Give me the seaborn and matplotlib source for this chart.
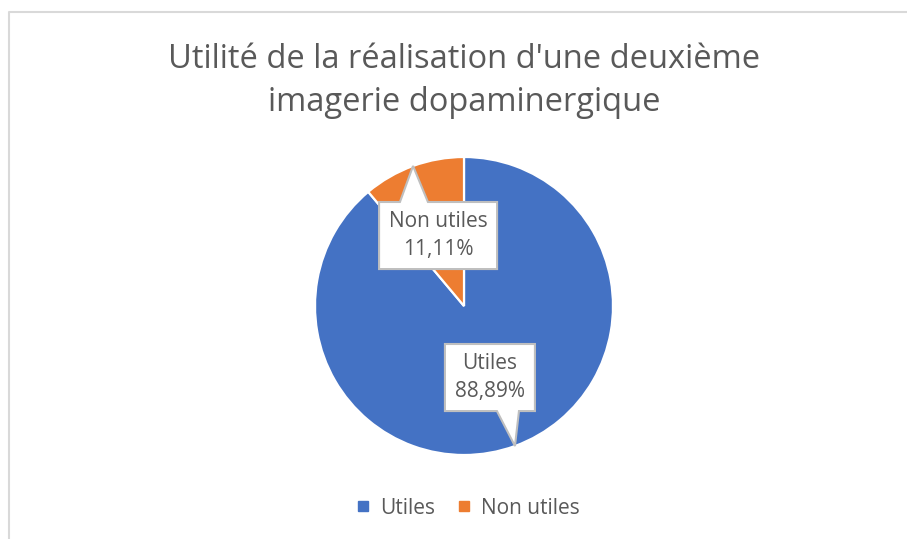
import numpy as np
import matplotlib
matplotlib.use("Agg")
import matplotlib.pyplot as plt
import seaborn as sns
from matplotlib.patches import Polygon
from matplotlib.lines import Line2D

# ---- data ----
categories = ["Utiles", "Non utiles"]
values = [88.89, 11.11]
colors = ["#4472C4", "#ED7D31"]
title = "Utilité de la réalisation d'une deuxième\nimagerie dopaminergique"

sns.set_theme(style="white")
plt.rcParams["font.family"] = ["Open Sans", "DejaVu Sans"]

W, H = 907, 539
DPI = 100
fig = plt.figure(figsize=(W / DPI, H / DPI), dpi=DPI)
fig.patch.set_facecolor("white")

# pie geometry in pixels
cx_px, cy_px, r_px = 464, 306, 149
ax = fig.add_axes([0, 0, 1, 1])
wedges, _ = ax.pie(values, colors=colors, startangle=90, counterclock=False,
                   radius=1, center=(0, 0),
                   wedgeprops=dict(edgecolor="white", linewidth=1.6))
ax.set_aspect("auto")
ax.set_xlim(-cx_px / r_px, (W - cx_px) / r_px)
ax.set_ylim(-(H - cy_px) / r_px, cy_px / r_px)
ax.axis("off")

text_color = "#595959"
# callout layout: (box center, width, height, pointer side, pointer base x range)
layouts = {
    "Utiles": dict(c=(0.174, -0.480), w=0.604, h=0.450, side="bottom", base=(0.221, 0.369)),
    "Non utiles": dict(c=(-0.174, 0.473), w=0.792, h=0.450, side="top", base=(-0.430, -0.242)),
}

for wedge, cat, val in zip(wedges, categories, values):
    mid = np.deg2rad((wedge.theta1 + wedge.theta2) / 2)
    tip = (np.cos(mid) * 1.0, np.sin(mid) * 1.0)
    L = layouts[cat]
    (bx, by), w, h = L["c"], L["w"], L["h"]
    x0, x1, y0, y1 = bx - w / 2, bx + w / 2, by - h / 2, by + h / 2
    b0, b1 = L["base"]
    if L["side"] == "top":
        pts = [(x0, y0), (x1, y0), (x1, y1), (b1, y1), tip, (b0, y1), (x0, y1)]
    else:
        pts = [(x0, y0), (b0, y0), tip, (b1, y0), (x1, y0), (x1, y1), (x0, y1)]
    ax.add_patch(Polygon(pts, closed=True, facecolor="white", edgecolor="#BFBFBF",
                         linewidth=1.5, zorder=5, joinstyle="miter"))
    label = f"{cat}\n{val:.2f}%".replace(".", ",")
    ax.text(bx, by, label, ha="center", va="center", fontsize=15,
            color=text_color, zorder=6, linespacing=1.45)

# title
fig.text(cx_px / W, 1 - 81 / H, title, ha="center", va="center",
         fontsize=23.5, color=text_color, linespacing=1.42)

# legend
handles = [Line2D([], [], marker="s", linestyle="none", markersize=7,
                  markerfacecolor=c, markeredgecolor=c) for c in colors]
fig.legend(handles, categories, loc="center", bbox_to_anchor=(467 / W, 1 - 508 / H),
           ncol=2, frameon=False, fontsize=15, labelcolor=text_color,
           handletextpad=0.4, columnspacing=1.0, handlelength=0.8)

# chart border (extends beyond right/bottom edges)
fig.add_artist(Line2D([8.5 / W, 8.5 / W, 1.0], [0.0, 1 - 11.5 / H, 1 - 11.5 / H],
                      transform=fig.transFigure, color="#D9D9D9", linewidth=1.5))

fig.savefig("out.png", dpi=DPI)
